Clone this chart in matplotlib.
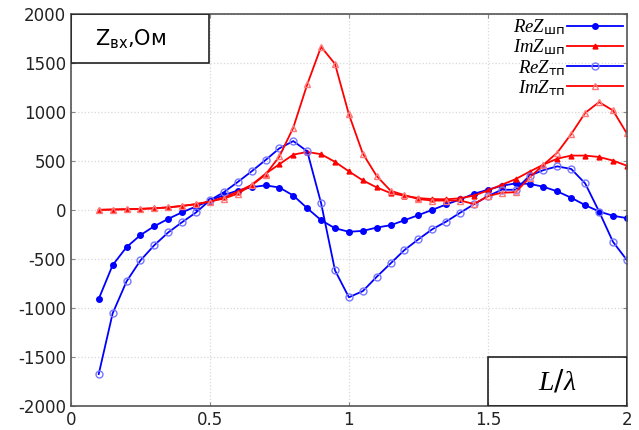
import numpy as np
import matplotlib
matplotlib.use('Agg')
import matplotlib.pyplot as plt
from matplotlib.patches import Rectangle

plt.rcParams['axes.unicode_minus'] = False
plt.rcParams['mathtext.fontset'] = 'custom'
plt.rcParams['mathtext.it'] = 'Liberation Serif:italic'
plt.rcParams['mathtext.rm'] = 'DejaVu Sans'

# L/lambda from 0.1 to 2.0 step 0.05
x = np.round(np.arange(0.1, 2.0001, 0.05), 2)

re_shp = [-910, -565, -381, -258, -167, -92, -25, 34, 95, 150, 197, 231, 250,
          228, 146, 17, -106, -188, -224, -215, -181, -157, -106, -54, 0, 55,
          106, 164, 205, 246, 270, 265, 236, 188, 123, 48, -17, -60, -85]
im_shp = [0, 3, 6, 10, 16, 25, 40, 58, 85, 128, 185, 255, 368, 466, 564, 591,
          568, 490, 393, 301, 229, 171, 144, 120, 110, 108, 118, 145, 198, 256,
          314, 390, 462, 523, 554, 554, 540, 503, 451]
re_tp = [-1677, -1058, -731, -517, -361, -231, -126, -27, 98, 180, 284, 393,
         508, 628, 702, 598, 68, -618, -893, -830, -684, -547, -410, -301,
         -198, -120, -30, 57, 140, 205, 205, 349, 406, 444, 417, 270, -17,
         -326, -513]
im_tp = [0, 3, 6, 10, 16, 25, 40, 58, 85, 115, 165, 250, 360, 545, 840, 1280,
         1665, 1490, 975, 575, 345, 195, 150, 110, 95, 95, 95, 60, 140, 175,
         180, 330, 460, 585, 775, 990, 1100, 1015, 780]

fig = plt.figure(figsize=(6.39, 4.30), dpi=100)
ax = fig.add_axes([0.111, 0.0565, 0.87, 0.911])

ax.plot(x, re_shp, color='#0000ff', lw=1.3, marker='o', ms=4,
        label=r'$ReZ_{\mathrm{шп}}$')
ax.plot(x, im_shp, color='#ff0000', lw=1.3, marker='^', ms=3.5,
        label=r'$ImZ_{\mathrm{шп}}$')
ax.plot(x, re_tp, color='#0000ff', lw=1.3, marker='o', ms=5,
        mfc='none', mec='#7878ff', mew=1.0, label=r'$ReZ_{\mathrm{тп}}$')
ax.plot(x, im_tp, color='#ff0000', lw=1.3, marker='^', ms=5,
        mfc='none', mec='#ff7878', mew=1.0, label=r'$ImZ_{\mathrm{тп}}$')

ax.set_xlim(0, 2)
ax.set_ylim(-2000, 2000)
ax.set_xticks([0, 0.5, 1, 1.5, 2])
ax.set_xticklabels(['0', '0.5', '1', '1.5', '2'])
ax.set_yticks(np.arange(-2000, 2001, 500))
ax.tick_params(direction='in', length=3, labelsize=12, top=True, right=True,
               color='#888888', labelcolor='#222222')
for s in ax.spines.values():
    s.set_color('#555555')
    s.set_linewidth(1.2)
ax.grid(True, color='#d8d8d8', linestyle=':', linewidth=0.9)

# boxed axis labels inside the plot
ax.add_patch(Rectangle((0, 0.876), 0.248, 0.124, transform=ax.transAxes,
                       fill=False, edgecolor='#222222', lw=1.2, zorder=5))
ax.text(0.107, 0.938, r'Z$_{\mathrm{вх}}$,Ом', transform=ax.transAxes,
        ha='center', va='center', fontsize=15)
ax.add_patch(Rectangle((0.75, 0), 0.25, 0.124, transform=ax.transAxes,
                       fill=False, edgecolor='#222222', lw=1.2, zorder=5))
ax.text(0.875, 0.062, r'$L/\lambda$', transform=ax.transAxes,
        ha='center', va='center', fontsize=20)

ax.legend(loc='upper right', frameon=False, markerfirst=False, fontsize=13.5,
          handlelength=3.0, handletextpad=0.1, labelspacing=0.02,
          borderaxespad=0.0, borderpad=0.2)

fig.savefig('out.png', dpi=100)
